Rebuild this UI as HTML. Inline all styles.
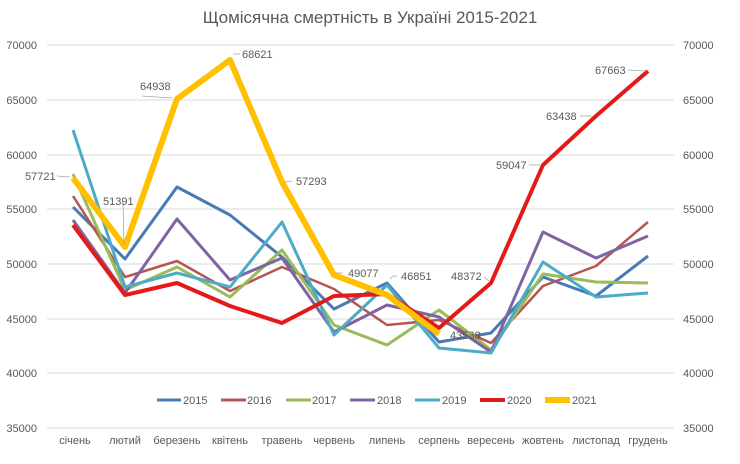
<!DOCTYPE html>
<html><head><meta charset="utf-8"><style>
body{margin:0;background:#fff}
svg text{font-family:"Liberation Sans",sans-serif;fill:#595959}
</style></head><body>
<svg width="740" height="459" viewBox="0 0 740 459" xmlns="http://www.w3.org/2000/svg">
<rect width="740" height="459" fill="#fff"/>
<text x="370" y="23" font-size="17" text-anchor="middle">Щомісячна смертність в Україні 2015-2021</text>
<g stroke="#d9d9d9" stroke-width="1">
<line x1="47" x2="674" y1="45" y2="45"/><line x1="47" x2="674" y1="100" y2="100"/>
<line x1="47" x2="674" y1="155" y2="155"/><line x1="47" x2="674" y1="209" y2="209"/>
<line x1="47" x2="674" y1="264" y2="264"/><line x1="47" x2="674" y1="319" y2="319"/>
<line x1="47" x2="674" y1="373" y2="373"/><line x1="47" x2="674" y1="428" y2="428"/>
</g>
<g font-size="11" text-anchor="end">
<text x="37" y="49">70000</text><text x="37" y="104">65000</text><text x="37" y="159">60000</text>
<text x="37" y="213">55000</text><text x="37" y="268">50000</text><text x="37" y="323">45000</text>
<text x="37" y="377">40000</text><text x="37" y="432">35000</text>
</g>
<g font-size="11" text-anchor="start">
<text x="683" y="49">70000</text><text x="683" y="104">65000</text><text x="683" y="159">60000</text>
<text x="683" y="213">55000</text><text x="683" y="268">50000</text><text x="683" y="323">45000</text>
<text x="683" y="377">40000</text><text x="683" y="432">35000</text>
</g>
<g font-size="11" text-anchor="middle">
<text x="75" y="444">січень</text><text x="125" y="444">лютий</text><text x="177" y="444">березень</text>
<text x="230" y="444">квітень</text><text x="282" y="444">травень</text><text x="334" y="444">червень</text>
<text x="387" y="444">липень</text><text x="439" y="444">серпень</text><text x="491" y="444">вересень</text>
<text x="543" y="444">жовтень</text><text x="596" y="444">листопад</text><text x="648" y="444">грудень</text>
</g>
<g fill="none" stroke-linejoin="round">
<polyline stroke="#4a7ab5" stroke-width="3" points="73,207 125,259 177,187 230,215 282,257 334,309 387,283 439,342 491,333 543,277 596,296 648,256"/>
<polyline stroke="#b85450" stroke-width="2.5" points="73,196 125,277 177,261 230,291 282,267 334,289 387,325 439,320 491,343 543,286 596,266 648,222"/>
<polyline stroke="#9bbb59" stroke-width="3" points="73,174 125,290 177,267 230,297 282,250 334,325 387,345 439,310 491,350 543,274 596,282 648,283"/>
<polyline stroke="#8064a2" stroke-width="3" points="73,220 125,293 177,219 230,280 282,258 334,332 387,305 439,317 491,352 543,232 596,258 648,236"/>
<polyline stroke="#4bacc6" stroke-width="3" points="73,130 125,287 177,273 230,287 282,222 334,335 387,285 439,348 491,353 543,262 596,297 648,293"/>
<polyline stroke="#e41a1a" stroke-width="4" points="73,225 125,295 177,283 230,306 282,323 334,296 387,294 439,328 491,283 543,165 596,116 648,71"/>
<polyline stroke="#ffc000" stroke-width="6" points="73,178 125,247 177,99 230,60 282,182 334,275 387,295 439,334"/>
</g>
<g stroke="#a6a6a6" stroke-width="0.8" fill="none">
<line x1="57" y1="176" x2="70" y2="177"/><line x1="123" y1="201" x2="124" y2="245"/>
<polyline points="142,96 172,98"/><polyline points="233,54 240,54"/><polyline points="284,182 292,181"/>
<polyline points="336,273 343,273"/><polyline points="390,279 393,276 397,276"/>
<polyline points="484,277 489,281"/><polyline points="529,165 540,165"/>
<polyline points="580,116 592,116"/><polyline points="628,70 646,71"/>
</g>
<g font-size="11" fill="#404040">
<text x="25" y="180">57721</text><text x="103" y="205">51391</text><text x="140" y="90">64938</text>
<text x="242" y="58">68621</text><text x="296" y="185">57293</text><text x="348" y="277">49077</text>
<text x="401" y="280">46851</text><text x="451" y="280">48372</text><text x="450" y="339">43538</text>
<text x="496" y="169">59047</text><text x="546" y="120">63438</text><text x="595" y="74">67663</text>
</g>
<g font-size="11">
<line x1="157" y1="400" x2="181" y2="400" stroke="#4a7ab5" stroke-width="3"/><text x="183" y="404">2015</text>
<line x1="221" y1="400" x2="246" y2="400" stroke="#b85450" stroke-width="3"/><text x="247" y="404">2016</text>
<line x1="286" y1="400" x2="311" y2="400" stroke="#9bbb59" stroke-width="3"/><text x="312" y="404">2017</text>
<line x1="350" y1="400" x2="375" y2="400" stroke="#8064a2" stroke-width="3"/><text x="377" y="404">2018</text>
<line x1="415" y1="400" x2="440" y2="400" stroke="#4bacc6" stroke-width="3"/><text x="442" y="404">2019</text>
<line x1="480" y1="400" x2="505" y2="400" stroke="#e41a1a" stroke-width="4"/><text x="507" y="404">2020</text>
<line x1="545" y1="400" x2="570" y2="400" stroke="#ffc000" stroke-width="6"/><text x="572" y="404">2021</text>
</g>
</svg>
</body></html>
